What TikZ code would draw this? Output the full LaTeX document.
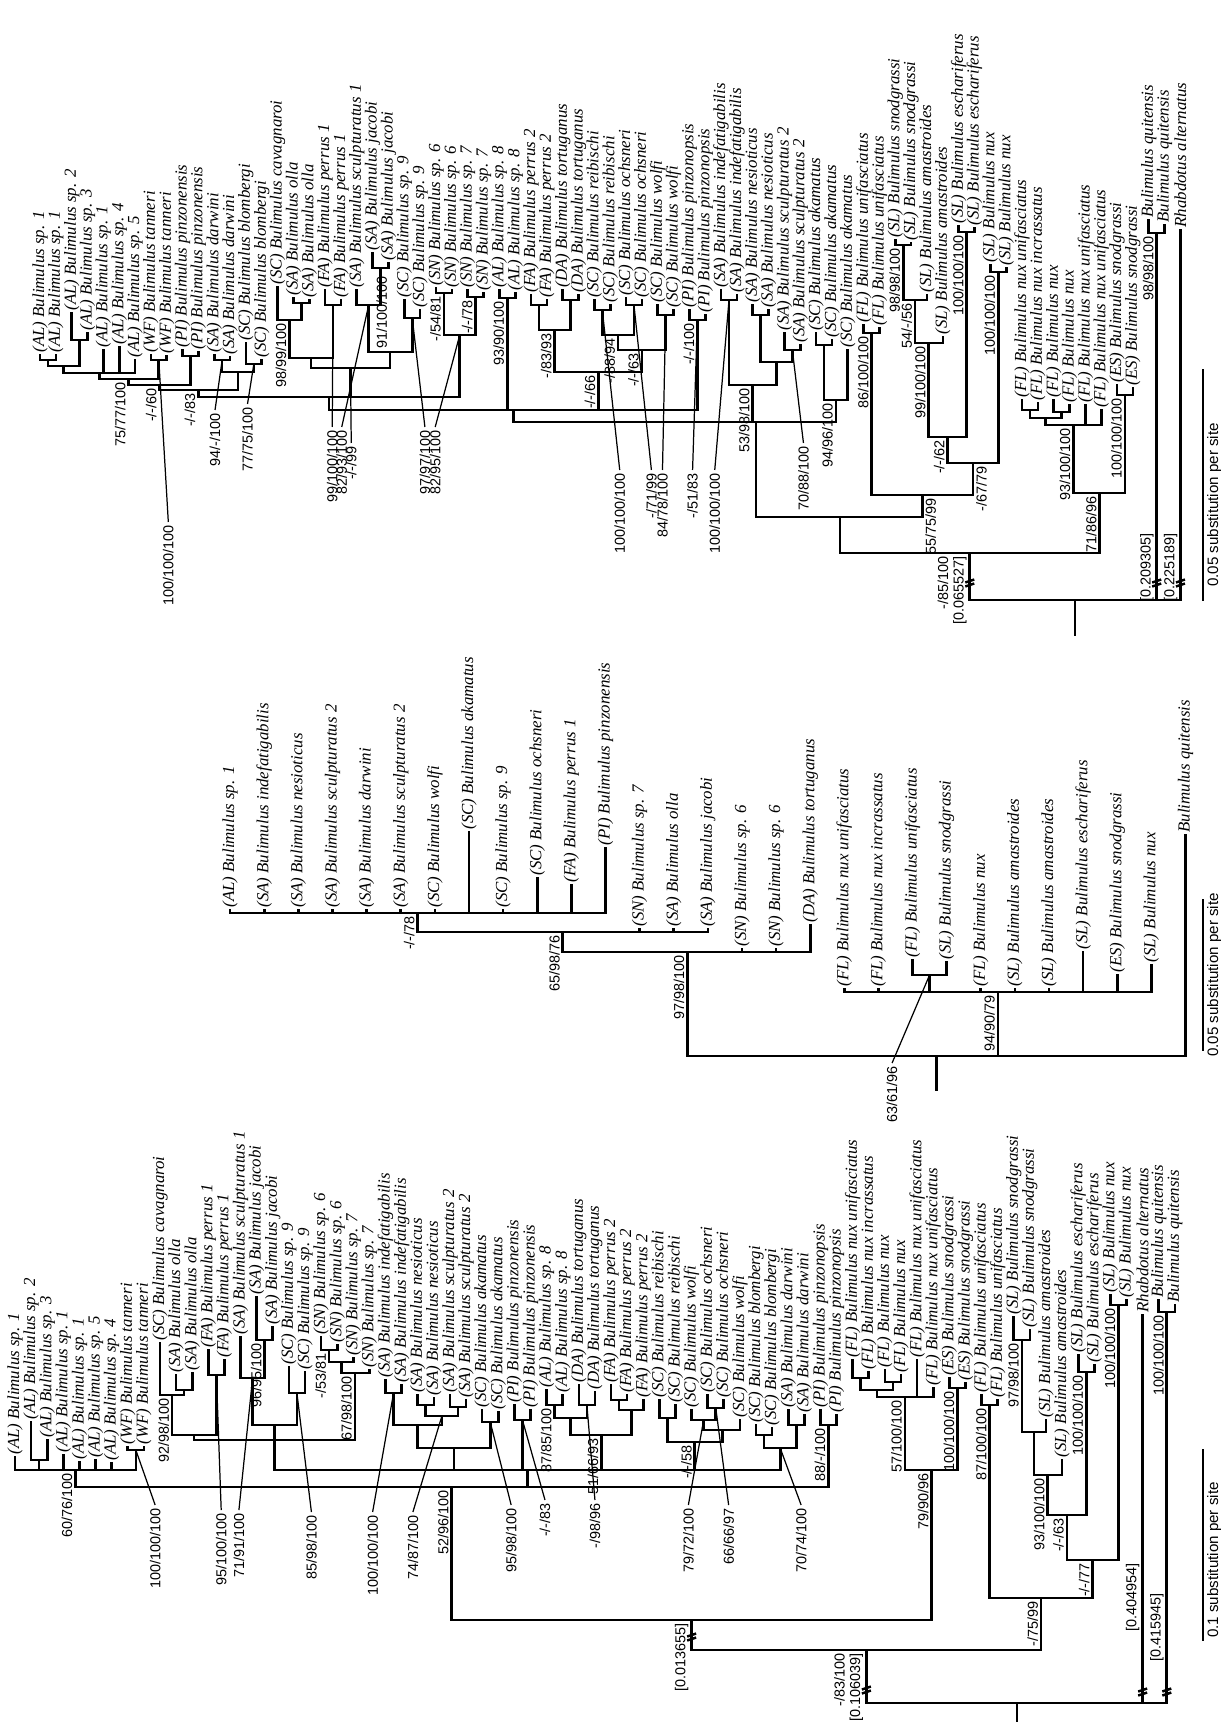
\documentclass[tikz,border=0pt]{standalone}
\usepackage{fontspec}
\setmainfont{Liberation Serif}
\setsansfont{Liberation Sans}
\newcommand\lfont{\fontsize{4.8}{5.2}\selectfont\itshape}
\newcommand\bfont{\fontsize{4.1}{4.4}\selectfont\sffamily}
\newcommand\sfont{\fontsize{4.3}{4.6}\selectfont\sffamily}
\tikzset{
 tl/.style={line width=0.75pt, line cap=rect},
 ldr/.style={line width=0.35pt},
 leaf/.style={rotate=90, anchor=west, inner sep=0.5pt, font=\lfont},
 bsl/.style={rotate=90, inner sep=0.7pt, font=\bfont},
 scl/.style={rotate=90, inner sep=0.4pt, font=\sfont},
}
\newcommand\Lf[4]{\coordinate (#1) at (#2,#3); \node[leaf] (#1t) at (#1) {#4};}
\newcommand\Nd[4]{\coordinate (#1) at (#2,#3); \foreach \k in {#4}{\draw[tl] (#1) -| (\k);}}
\newcommand\Bs[2]{\node[bsl,anchor=south east] at (#1) {#2};}
\newcommand\Bsr[2]{\node[bsl,anchor=north east] at (#1) {#2};}
\newcommand\Bsa[2]{\node[bsl,anchor=south west] at (#1) {#2};}
\newcommand\Ld[4]{\node[bsl,anchor=east] (#1) at #2 {#3}; \draw[ldr] (#4) -- (#1.east);}
\newcommand\Brk[1]{\draw[line width=0.7pt] ([shift={(-0.045cm,-0.035cm)}]#1) -- ++(0.09cm,0.03cm) ([shift={(-0.045cm,0.005cm)}]#1) -- ++(0.09cm,0.03cm);}
\begin{document}
\begin{tikzpicture}[x=0.01cm,y=-0.01cm]
\useasboundingbox (0,0) rectangle (1220,1722);
% ================= TREE 3 (top band) =================
\begin{scope}[x=0.1583cm,y=-0.01cm,xshift=0.2417cm]
\Lf{c1}{1}{355}{(AL) Bulimulus sp. 1}
\Lf{c2}{2}{355}{(AL) Bulimulus sp. 1}
\Lf{c3}{3}{313}{(AL) Bulimulus sp. 2}
\Lf{c4}{4}{333}{(AL) Bulimulus sp. 3}
\Lf{c5}{5}{350}{(AL) Bulimulus sp. 1}
\Lf{c6}{6}{347}{(AL) Bulimulus sp. 4}
\Lf{c7}{7}{360}{(AL) Bulimulus sp. 5}
\Lf{c8}{8}{355}{(WF) Bulimulus tanneri}
\Lf{c9}{9}{356}{(WF) Bulimulus tanneri}
\Lf{c10}{10}{350}{(PI) Bulimulus pinzonensis}
\Lf{c11}{11}{352}{(PI) Bulimulus pinzonensis}
\Lf{c12}{12}{355}{(SA) Bulimulus darwini}
\Lf{c13}{13}{357}{(SA) Bulimulus darwini}
\Lf{c14}{14}{343}{(SC) Bulimulus blombergi}
\Lf{c15}{15}{360}{(SC) Bulimulus blombergi}
\Lf{c16}{16}{287}{(SC) Bulimulus cavagnaroi}
\Lf{c17}{17}{298}{(SA) Bulimulus olla}
\Lf{c18}{18}{300}{(SA) Bulimulus olla}
\Lf{c19}{19}{290}{(FA) Bulimulus perrus 1}
\Lf{c20}{20}{300}{(FA) Bulimulus perrus 1}
\Lf{c21}{21}{290}{(SA) Bulimulus sculpturatus 1}
\Lf{c22}{22}{253}{(SA) Bulimulus jacobi}
\Lf{c23}{23}{263}{(SA) Bulimulus jacobi}
\Lf{c24}{24}{300}{(SC) Bulimulus sp. 9}
\Lf{c25}{25}{310}{(SC) Bulimulus sp. 9}
\Lf{c26}{26}{288}{(SN) Bulimulus sp. 6}
\Lf{c27}{27}{290}{(SN) Bulimulus sp. 6}
\Lf{c28}{28}{290}{(SN) Bulimulus sp. 7}
\Lf{c29}{29}{293}{(SN) Bulimulus sp. 7}
\Lf{c30}{30}{290}{(AL) Bulimulus sp. 8}
\Lf{c31}{31}{293}{(AL) Bulimulus sp. 8}
\Lf{c32}{32}{295}{(FA) Bulimulus perrus 2}
\Lf{c33}{33}{300}{(FA) Bulimulus perrus 2}
\Lf{c34}{34}{290}{(DA) Bulimulus tortuganus}
\Lf{c35}{35}{295}{(DA) Bulimulus tortuganus}
\Lf{c36}{36}{300}{(SC) Bulimulus reibischi}
\Lf{c37}{37}{305}{(SC) Bulimulus reibischi}
\Lf{c38}{38}{298}{(SC) Bulimulus ochsneri}
\Lf{c39}{39}{300}{(SC) Bulimulus ochsneri}
\Lf{c40}{40}{305}{(SC) Bulimulus wolfi}
\Lf{c41}{41}{310}{(SC) Bulimulus wolfi}
\Lf{c42}{42}{310}{(PI) Bulimulus pinzonopsis}
\Lf{c43}{43}{315}{(PI) Bulimulus pinzonopsis}
\Lf{c44}{44}{290}{(SA) Bulimulus indefatigabilis}
\Lf{c45}{45}{295}{(SA) Bulimulus indefatigabilis}
\Lf{c46}{46}{305}{(SA) Bulimulus nesioticus}
\Lf{c47}{47}{310}{(SA) Bulimulus nesioticus}
\Lf{c48}{48}{333}{(SA) Bulimulus sculpturatus 2}
\Lf{c49}{49}{345}{(SA) Bulimulus sculpturatus 2}
\Lf{c50}{50}{333}{(SC) Bulimulus akamatus}
\Lf{c51}{51}{340}{(SC) Bulimulus akamatus}
\Lf{c52}{52}{350}{(SC) Bulimulus akamatus}
\Lf{c53}{53}{325}{(FL) Bulimulus unifasciatus}
\Lf{c54}{54}{328}{(FL) Bulimulus unifasciatus}
\Lf{c55}{55}{240}{(SL) Bulimulus snodgrassi}
\Lf{c56}{56}{243}{(SL) Bulimulus snodgrassi}
\Lf{c57}{57}{295}{(SL) Bulimulus amastroides}
\Lf{c58}{58}{337}{(SL) Bulimulus amastroides}
\Lf{c59}{59}{226}{(SL) Bulimulus eschariferus}
\Lf{c60}{60}{228}{(SL) Bulimulus eschariferus}
\Lf{c61}{61}{265}{(SL) Bulimulus nux}
\Lf{c62}{62}{268}{(SL) Bulimulus nux}
\Lf{c63}{63}{400}{(FL) Bulimulus nux unifasciatus}
\Lf{c64}{64}{403}{(FL) Bulimulus nux incrassatus}
\Lf{c65}{65}{400}{(FL) Bulimulus nux}
\Lf{c66}{66}{405}{(FL) Bulimulus nux}
\Lf{c67}{67}{405}{(FL) Bulimulus nux unifasciatus}
\Lf{c68}{68}{410}{(FL) Bulimulus nux unifasciatus}
\Lf{c69}{69}{385}{(ES) Bulimulus snodgrassi}
\Lf{c70}{70}{388}{(ES) Bulimulus snodgrassi}
\Lf{c71}{71}{220}{Bulimulus quitensis}
\Lf{c72}{72}{225}{Bulimulus quitensis}
\Lf{c73}{73}{230}{Rhabdotus alternatus}
\Nd{rt1}{1.5}{360}{c1,c2}
\Nd{rt2}{3.5}{340}{c3,c4}
\Nd{rt3}{2.5}{366}{rt1,rt2}
\Nd{rt4}{4.75}{373}{rt3,c5,c6,c7}
\Nd{rwf}{8.5}{360}{c8,c9}
\Nd{rt5}{6.6}{379}{rt4,rwf}
\Nd{rpi}{10.5}{356}{c10,c11}
\Nd{rt6}{8.55}{385}{rt5,rpi}
\Nd{rdw}{12.5}{360}{c12,c13}
\Nd{rbl}{14.5}{364}{c14,c15}
\Nd{rt7}{13.5}{372}{rdw,rbl}
\Nd{rt8}{11}{390}{rt6,rt7}
\Nd{rol}{17.5}{303}{c17,c18}
\Nd{rco}{16.75}{320}{c16,rol}
\Nd{rp1}{19.5}{305}{c19,c20}
\Nd{rcp}{18.1}{358}{rco,rp1}
\Nd{rj}{22.5}{268}{c22,c23}
\Nd{rsj}{21.75}{305}{c21,rj}
\Nd{rs9}{24.5}{318}{c24,c25}
\Nd{rt9}{23.1}{352}{rsj,rs9}
\Nd{rt10}{20.6}{368}{rcp,rt9}
\Nd{rn6}{26.5}{293}{c26,c27}
\Nd{rn7}{28.5}{297}{c28,c29}
\Nd{rsn}{27.5}{335}{rn6,rn7}
\Nd{rB1}{19.25}{397}{rt8,rt10,rsn}
\Nd{rsp8}{30.5}{298}{c30,c31}
\Nd{rfa}{32.5}{305}{c32,c33}
\Nd{rda}{34.5}{300}{c34,c35}
\Nd{rfd}{33.5}{330}{rfa,rda}
\Nd{rrb}{36.5}{310}{c36,c37}
\Nd{roc}{38.5}{305}{c38,c39}
\Nd{rwo}{40.5}{315}{c40,c41}
\Nd{rro}{37.5}{335}{rrb,roc}
\Nd{rrw}{39}{350}{rro,rwo}
\Nd{rg}{36.25}{372}{rfd,rrw}
\Nd{rpz}{42.5}{320}{c42,c43}
\Nd{rB2}{30.9}{410}{rB1,rsp8,rg,rpz}
\Nd{rin}{44.5}{300}{c44,c45}
\Nd{rns}{46.5}{315}{c46,c47}
\Nd{rs2}{48.5}{350}{c48,c49}
\Nd{rns2}{47.5}{362}{rns,rs2}
\Nd{rx53}{46}{385}{rin,rns2}
\Nd{rak1}{50.5}{345}{c50,c51}
\Nd{rak}{51.25}{400}{rak1,c52}
\Nd{rB3}{46.2}{422}{rB2,rx53,rak}
\Nd{rfu}{53.5}{333}{c53,c54}
\Nd{rsns}{55.5}{245}{c55,c56}
\Nd{rn54}{56.25}{300}{rsns,c57}
\Nd{rn99}{57.1}{343}{rn54,c58}
\Nd{res}{59.5}{232}{c59,c60}
\Nd{rP}{58.3}{437}{rn99,res}
\Nd{rnux}{61.5}{272}{c61,c62}
\Nd{rQp}{59.9}{463}{rP,rnux}
\Nd{rA2}{56.7}{495}{rfu,rQp}
\Nd{rA}{51.5}{517}{rB3,rA2}
\Nd{rf1}{63.5}{410}{c63,c64}
\Nd{rf2}{65.5}{412}{c65,c66}
\Nd{rf12}{64.5}{418}{rf1,rf2}
\Nd{rF1}{66.25}{425}{rf12,c67,c68}
\Nd{rF2}{69.5}{395}{c69,c70}
\Nd{rF}{67.9}{493}{rF1,rF2}
\Nd{rI}{59.7}{553}{rA,rF}
\Nd{rQ}{71.5}{233}{c71,c72}
\Nd{rR}{66.35}{600}{rI,rQ,c73}
\coordinate (rRs) at (66.35,635); \draw[tl] (rR) -- (rRs);
\Bs{rt5}{75/77/100}
\Bs{rt6}{-/-/60}
\Bs{rt8}{-/-/83}
\Bs{rco}{98/99/100}
\Bsa{rt9}{91/100/100}
\Bs{rn6}{-/54/81}
\Bs{rn7}{-/-/78}
\Bs{rsp8}{93/90/100}
\Bs{rfd}{-/83/93}
\Bs{rro}{-/88/94}
\Bs{rrw}{-/-/63}
\Bs{rg}{-/-/66}
\Bs{rpz}{-/-/100}
\Bs{rx53}{53/98/100}
\Bs{rak}{94/96/100}
\Bs{rfu}{86/100/100}
\Bs{rsns}{98/98/100}
\Bs{rn54}{54/-/56}
\Bs{rn99}{99/100/100}
\Bs{res}{100/100/100}
\Bs{rnux}{100/100/100}
\Bs{rP}{-/-/62}
\Bsr{rQp}{-/67/79}
\Bsr{rA2}{55/75/99}
\Bs{rF1}{93/100/100}
\Bs{rF2}{100/100/100}
\Bs{rF}{71/86/96}
\Bs{rQ}{98/98/100}
\node[bsl,anchor=south east,align=right] (rIl) at (rI) {-/85/100\\{[0.065527]}};
\coordinate (rkQ) at (71.5,530); \Bs{rkQ}{[0.209305]}
\coordinate (rk73) at (73,530); \Bs{rk73}{[0.225189]}
\coordinate (rb1) at (71.5,583); \Brk{rb1}
\coordinate (rb2) at (73,583); \Brk{rb2}
\coordinate (rb3) at (59.7,583); \Brk{rb3}
\Ld{rl1}{(9.1,522)}{100/100/100}{rwf}
\Ld{rl2}{(12.05,410)}{94/-/100}{rdw}
\Ld{rl3}{(14.1,404)}{77/75/100}{rbl}
\Ld{rl4}{(19.45,427)}{99/100/100}{rp1}
\Ld{rl5}{(20.05,427)}{82/93/100}{rsj}
\Ld{rl6}{(20.65,443)}{-/-/99}{rt10}
\Ld{rl7}{(25.3,427)}{97/97/100}{rs9}
\Ld{rl8}{(25.95,427)}{82/95/100}{rsn}
\Ld{rl9}{(37.6,470)}{100/100/100}{rrb}
\Ld{rl10}{(39.6,470)}{-/71/99}{roc}
\Ld{rl11}{(40.3,470)}{84/78/100}{rwo}
\Ld{rl12}{(42.2,470)}{-/51/83}{rpz}
\Ld{rl13}{(43.6,470)}{100/100/100}{rin}
\Ld{rl14}{(49.2,443)}{70/88/100}{rs2}
\end{scope}
% ================= TREE 2 (middle band) =================
\begin{scope}[x=0.341cm,y=-0.01cm,xshift=1.959cm]
\Lf{b1}{1}{910}{(AL) Bulimulus sp. 1}
\Lf{b2}{2}{910}{(SA) Bulimulus indefatigabilis}
\Lf{b3}{3}{910}{(SA) Bulimulus nesioticus}
\Lf{b4}{4}{910}{(SA) Bulimulus sculpturatus 2}
\Lf{b5}{5}{910}{(SA) Bulimulus darwini}
\Lf{b6}{6}{910}{(SA) Bulimulus sculpturatus 2}
\Lf{b7}{7}{910}{(SC) Bulimulus wolfi}
\Lf{b8}{8}{832}{(SC) Bulimulus akamatus}
\Lf{b9}{9}{910}{(SC) Bulimulus sp. 9}
\Lf{b10}{10}{878}{(SC) Bulimulus ochsneri}
\Lf{b11}{11}{885}{(FA) Bulimulus perrus 1}
\Lf{b12}{12}{848}{(PI) Bulimulus pinzonensis}
\Lf{b13}{13}{929}{(SN) Bulimulus sp. 7}
\Lf{b14}{14}{929}{(SA) Bulimulus olla}
\Lf{b15}{15}{929}{(SA) Bulimulus jacobi}
\Lf{b16}{16}{949}{(SN) Bulimulus sp. 6}
\Lf{b17}{17}{949}{(SN) Bulimulus sp. 6}
\Lf{b18}{18}{925}{(DA) Bulimulus tortuganus}
\Lf{b19}{19}{989}{(FL) Bulimulus nux unifasciatus}
\Lf{b20}{20}{989}{(FL) Bulimulus nux incrassatus}
\Lf{b21}{21}{960}{(FL) Bulimulus unifasciatus}
\Lf{b22}{22}{962}{(SL) Bulimulus snodgrassi}
\Lf{b23}{23}{989}{(FL) Bulimulus nux}
\Lf{b24}{24}{989}{(SL) Bulimulus amastroides}
\Lf{b25}{25}{989}{(SL) Bulimulus amastroides}
\Lf{b26}{26}{952}{(SL) Bulimulus eschariferus}
\Lf{b27}{27}{975}{(ES) Bulimulus snodgrassi}
\Lf{b28}{28}{965}{(SL) Bulimulus nux}
\Lf{b29}{29}{835}{Bulimulus quitensis}
\Nd{qa}{6.5}{913}{b1,b2,b3,b4,b5,b6,b7,b8,b9,b10,b11,b12}
\Nd{qb}{10.75}{932}{qa,b13,b14,b15}
\Nd{qc}{14.4}{952}{qb,b16,b17,b18}
\Nd{qfs}{21.5}{975}{b21,b22}
\Nd{qd}{23.5}{992}{b19,b20,qfs,b23,b24,b25,b26,b27,b28}
\Nd{qR}{21.7}{1056}{qc,qd,b29}
\coordinate (qRs) at (21.7,1090); \draw[tl] (qR) -- (qRs);
\Bs{qa}{-/-/78}
\Bs{qb}{65/98/76}
\Bs{qc}{97/98/100}
\Bs{qd}{94/90/79}
\Ld{ql1}{(20.4,1063)}{63/61/96}{qfs}
\end{scope}
% ================= TREE 1 (bottom band) =================
\begin{scope}[x=0.161cm,y=-0.01cm,xshift=-0.011cm]
\Lf{a1}{1}{1457}{(AL) Bulimulus sp. 1}
\Lf{a2}{2}{1422}{(AL) Bulimulus sp. 2}
\Lf{a3}{3}{1440}{(AL) Bulimulus sp. 3}
\Lf{a4}{4}{1455}{(AL) Bulimulus sp. 1}
\Lf{a5}{5}{1462}{(AL) Bulimulus sp. 1}
\Lf{a6}{6}{1460}{(AL) Bulimulus sp. 5}
\Lf{a7}{7}{1463}{(AL) Bulimulus sp. 4}
\Lf{a8}{8}{1447}{(WF) Bulimulus tanneri}
\Lf{a9}{9}{1447}{(WF) Bulimulus tanneri}
\Lf{a10}{10}{1343}{(SC) Bulimulus cavagnaroi}
\Lf{a11}{11}{1375}{(SA) Bulimulus olla}
\Lf{a12}{12}{1373}{(SA) Bulimulus olla}
\Lf{a13}{13}{1350}{(FA) Bulimulus perrus 1}
\Lf{a14}{14}{1360}{(FA) Bulimulus perrus 1}
\Lf{a15}{15}{1337}{(SA) Bulimulus sculpturatus 1}
\Lf{a16}{16}{1297}{(SA) Bulimulus jacobi}
\Lf{a17}{17}{1327}{(SA) Bulimulus jacobi}
\Lf{a18}{18}{1367}{(SC) Bulimulus sp. 9}
\Lf{a19}{19}{1372}{(SC) Bulimulus sp. 9}
\Lf{a20}{20}{1337}{(SN) Bulimulus sp. 6}
\Lf{a21}{21}{1345}{(SN) Bulimulus sp. 6}
\Lf{a22}{22}{1358}{(SN) Bulimulus sp. 7}
\Lf{a23}{23}{1370}{(SN) Bulimulus sp. 7}
\Lf{a24}{24}{1380}{(SA) Bulimulus indefatigabilis}
\Lf{a25}{25}{1385}{(SA) Bulimulus indefatigabilis}
\Lf{a26}{26}{1395}{(SA) Bulimulus nesioticus}
\Lf{a27}{27}{1398}{(SA) Bulimulus nesioticus}
\Lf{a28}{28}{1395}{(SA) Bulimulus sculpturatus 2}
\Lf{a29}{29}{1400}{(SA) Bulimulus sculpturatus 2}
\Lf{a30}{30}{1410}{(SC) Bulimulus akamatus}
\Lf{a31}{31}{1412}{(SC) Bulimulus akamatus}
\Lf{a32}{32}{1405}{(PI) Bulimulus pinzonensis}
\Lf{a33}{33}{1410}{(PI) Bulimulus pinzonensis}
\Lf{a34}{34}{1390}{(AL) Bulimulus sp. 8}
\Lf{a35}{35}{1395}{(AL) Bulimulus sp. 8}
\Lf{a36}{36}{1385}{(DA) Bulimulus tortuganus}
\Lf{a37}{37}{1392}{(DA) Bulimulus tortuganus}
\Lf{a38}{38}{1385}{(FA) Bulimulus perrus 2}
\Lf{a39}{39}{1395}{(FA) Bulimulus perrus 2}
\Lf{a40}{40}{1400}{(FA) Bulimulus perrus 2}
\Lf{a41}{41}{1400}{(SC) Bulimulus reibischi}
\Lf{a42}{42}{1405}{(SC) Bulimulus reibischi}
\Lf{a43}{43}{1410}{(SC) Bulimulus wolfi}
\Lf{a44}{44}{1395}{(SC) Bulimulus ochsneri}
\Lf{a45}{45}{1400}{(SC) Bulimulus ochsneri}
\Lf{a46}{46}{1420}{(SC) Bulimulus wolfi}
\Lf{a47}{47}{1425}{(SC) Bulimulus blombergi}
\Lf{a48}{48}{1428}{(SC) Bulimulus blombergi}
\Lf{a49}{49}{1410}{(SA) Bulimulus darwini}
\Lf{a50}{50}{1415}{(SA) Bulimulus darwini}
\Lf{a51}{51}{1410}{(PI) Bulimulus pinzonopsis}
\Lf{a52}{52}{1415}{(PI) Bulimulus pinzonopsis}
\Lf{a53}{53}{1360}{(FL) Bulimulus nux unifasciatus}
\Lf{a54}{54}{1372}{(FL) Bulimulus nux incrassatus}
\Lf{a55}{55}{1370}{(FL) Bulimulus nux}
\Lf{a56}{56}{1375}{(FL) Bulimulus nux}
\Lf{a57}{57}{1360}{(FL) Bulimulus nux unifasciatus}
\Lf{a58}{58}{1388}{(FL) Bulimulus nux unifasciatus}
\Lf{a59}{59}{1378}{(ES) Bulimulus snodgrassi}
\Lf{a60}{60}{1383}{(ES) Bulimulus snodgrassi}
\Lf{a61}{61}{1395}{(FL) Bulimulus unifasciatus}
\Lf{a62}{62}{1400}{(FL) Bulimulus unifasciatus}
\Lf{a63}{63}{1317}{(SL) Bulimulus snodgrassi}
\Lf{a64}{64}{1330}{(SL) Bulimulus snodgrassi}
\Lf{a65}{65}{1420}{(SL) Bulimulus amastroides}
\Lf{a66}{66}{1460}{(SL) Bulimulus amastroides}
\Lf{a67}{67}{1355}{(SL) Bulimulus eschariferus}
\Lf{a68}{68}{1365}{(SL) Bulimulus eschariferus}
\Lf{a69}{69}{1295}{(SL) Bulimulus nux}
\Lf{a70}{70}{1300}{(SL) Bulimulus nux}
\Lf{a71}{71}{1315}{Rhabdotus alternatus}
\Lf{a72}{72}{1300}{Bulimulus quitensis}
\Lf{a73}{73}{1305}{Bulimulus quitensis}
\Nd{p23}{2.5}{1460}{a2,a3}
\Nd{pWF}{8.5}{1450}{a8,a9}
\Nd{pAL}{4.75}{1470}{a1,p23,a4,a5,a6,a7,pWF}
\Nd{po1}{11.5}{1390}{a11,a12}
\Nd{po2}{10.75}{1395}{a10,po1}
\Nd{pp1}{13.5}{1375}{a13,a14}
\Nd{pg1}{12.1}{1435}{po2,pp1}
\Nd{pj1}{16.5}{1340}{a16,a17}
\Nd{pj2}{15.75}{1378}{a15,pj1}
\Nd{ps9}{18.5}{1393}{a18,a19}
\Nd{pg2}{17.1}{1425}{pj2,ps9}
\Nd{pn1}{20.5}{1350}{a20,a21}
\Nd{pn2}{21.25}{1362}{pn1,a22}
\Nd{pn3}{22.1}{1373}{pn2,a23}
\Nd{pg3}{17.1}{1440}{pg1,pg2,pn3}
\Nd{psa1}{24.5}{1393}{a24,a25}
\Nd{pnes}{26.5}{1405}{a26,a27}
\Nd{psc2}{28.5}{1407}{a28,a29}
\Nd{psa3}{27.5}{1416}{pnes,psc2}
\Nd{psa4}{26}{1425}{psa1,psa3}
\Nd{pak}{30.5}{1422}{a30,a31}
\Nd{pg4}{28.25}{1448}{psa4,pak}
\Nd{ppz}{32.5}{1420}{a32,a33}
\Nd{pal8}{34.5}{1405}{a34,a35}
\Nd{pda}{36.5}{1405}{a36,a37}
\Nd{pald}{35.5}{1418}{pal8,pda}
\Nd{pfa}{38.5}{1400}{a38,a39}
\Nd{pfb}{39.25}{1410}{pfa,a40}
\Nd{pg5}{37.4}{1435}{pald,pfb}
\Nd{prb}{41.5}{1418}{a41,a42}
\Nd{poc}{44.5}{1408}{a44,a45}
\Nd{pw1}{43.75}{1420}{a43,poc}
\Nd{pw2}{44.9}{1430}{pw1,a46}
\Nd{pg6}{43.2}{1442}{prb,pw2}
\Nd{pbl}{47.5}{1435}{a47,a48}
\Nd{pdw}{49.5}{1425}{a49,a50}
\Nd{pbd}{48.5}{1448}{pbl,pdw}
\Nd{pM}{32.8}{1470}{pg3,pg4,ppz,pg5,pg6,pbd}
\Nd{ppp}{51.5}{1425}{a51,a52}
\Nd{pNB}{28.1}{1487}{pAL,pM,ppp}
\Nd{pc53}{53.5}{1378}{a53,a54}
\Nd{pc55}{55.5}{1382}{a55,a56}
\Nd{pc5}{54.5}{1390}{pc53,pc55}
\Nd{pfl1}{56.25}{1397}{pc5,a57,a58}
\Nd{pes}{59.5}{1388}{a59,a60}
\Nd{pfl2}{57.9}{1470}{pfl1,pes}
\Nd{pN2}{43}{1620}{pNB,pfl2}
\Nd{pfu}{61.5}{1405}{a61,a62}
\Nd{ps63}{63.5}{1340}{a63,a64}
\Nd{ps65}{64.25}{1432}{ps63,a65}
\Nd{ps93}{65.1}{1475}{ps65,a66}
\Nd{pses}{67.5}{1372}{a67,a68}
\Nd{psb}{66.3}{1515}{ps93,pses}
\Nd{psn}{69.5}{1305}{a69,a70}
\Nd{ps77}{67.9}{1560}{psb,psn}
\Nd{ps75}{64.7}{1598}{pfu,ps77}
\Nd{pNI}{53.85}{1650}{pN2,ps75}
\Nd{pqu}{72.5}{1312}{a72,a73}
\Nd{pR}{63.2}{1703}{pNI,a71,pqu}
\coordinate (pRs) at (63.2,1722); \draw[tl] (pR) -- (pRs);
\Bs{pAL}{60/76/100}
\Bs{po2}{92/98/100}
\Bs{pj1}{96/95/100}
\Bs{pn1}{-/53/81}
\Bs{pn3}{67/98/100}
\Bs{pNB}{52/96/100}
\Bs{pal8}{87/85/100}
\Bs{pg5}{51/66/93}
\Bs{pg6}{-/-/58}
\Bs{ppp}{88/-/100}
\Bs{pfl1}{57/100/100}
\Bs{pes}{100/100/100}
\Bs{pfl2}{79/90/96}
\Bs{pfu}{87/100/100}
\Bs{ps63}{97/98/100}
\Bs{ps93}{93/100/100}
\Bs{pses}{100/100/100}
\Bs{psb}{-/-/63}
\Bs{psn}{100/100/100}
\Bs{ps77}{-/-/77}
\Bs{ps75}{-/75/99}
\Bs{pqu}{100/100/100}
\Bs{pN2}{[0.013655]}
\node[bsl,anchor=south east,align=right] (pNIl) at (pNI) {-/83/100\\{[0.106039]}};
\coordinate (pk71) at (71,1560); \Bs{pk71}{[0.404954]}
\coordinate (pkqu) at (72.5,1590); \Bs{pkqu}{[0.415945]}
\coordinate (pb1) at (71,1692); \Brk{pb1}
\coordinate (pb2) at (72.5,1692); \Brk{pb2}
\coordinate (pb3) at (53.85,1690); \Brk{pb3}
\coordinate (pb4) at (43,1637); \Brk{pb4}
\Ld{pl1}{(9.7,1505)}{100/100/100}{pWF}
\Ld{pl2}{(13.8,1510)}{95/100/100}{pp1}
\Ld{pl3}{(14.9,1510)}{71/91/100}{pj2}
\Ld{pl4}{(19.4,1512)}{85/98/100}{ps9}
\Ld{pl5}{(23.2,1512)}{100/100/100}{psa1}
\Ld{pl6}{(25.7,1512)}{74/87/100}{psa3}
\Ld{pl7}{(31.8,1505)}{95/98/100}{pak}
\Ld{pl8}{(33.9,1500)}{-/-/83}{ppz}
\Ld{pl9}{(37,1500)}{-/98/96}{pda}
\Ld{pl10}{(42.8,1505)}{79/72/100}{pw1}
\Ld{pl11}{(45.3,1505)}{66/66/97}{poc}
\Ld{pl12}{(49.8,1505)}{70/74/100}{pbd}
\end{scope}
% ================= scale bars =================
\coordinate (s3a) at (1203,370); \coordinate (s3b) at (1203,600);
\draw[tl] (s3a) -- (s3b);
\node[scl,anchor=north] (s3l) at (1205,505) {0.05 substitution per site};
\coordinate (s2a) at (1203,900); \coordinate (s2b) at (1203,1050);
\draw[tl] (s2a) -- (s2b);
\node[scl,anchor=north] (s2l) at (1205,975) {0.05 substitution per site};
\coordinate (s1a) at (1203,1450); \coordinate (s1b) at (1203,1640);
\draw[tl] (s1a) -- (s1b);
\node[scl,anchor=north] (s1l) at (1205,1560) {0.1 substitution per site};
\end{tikzpicture}
\end{document}
